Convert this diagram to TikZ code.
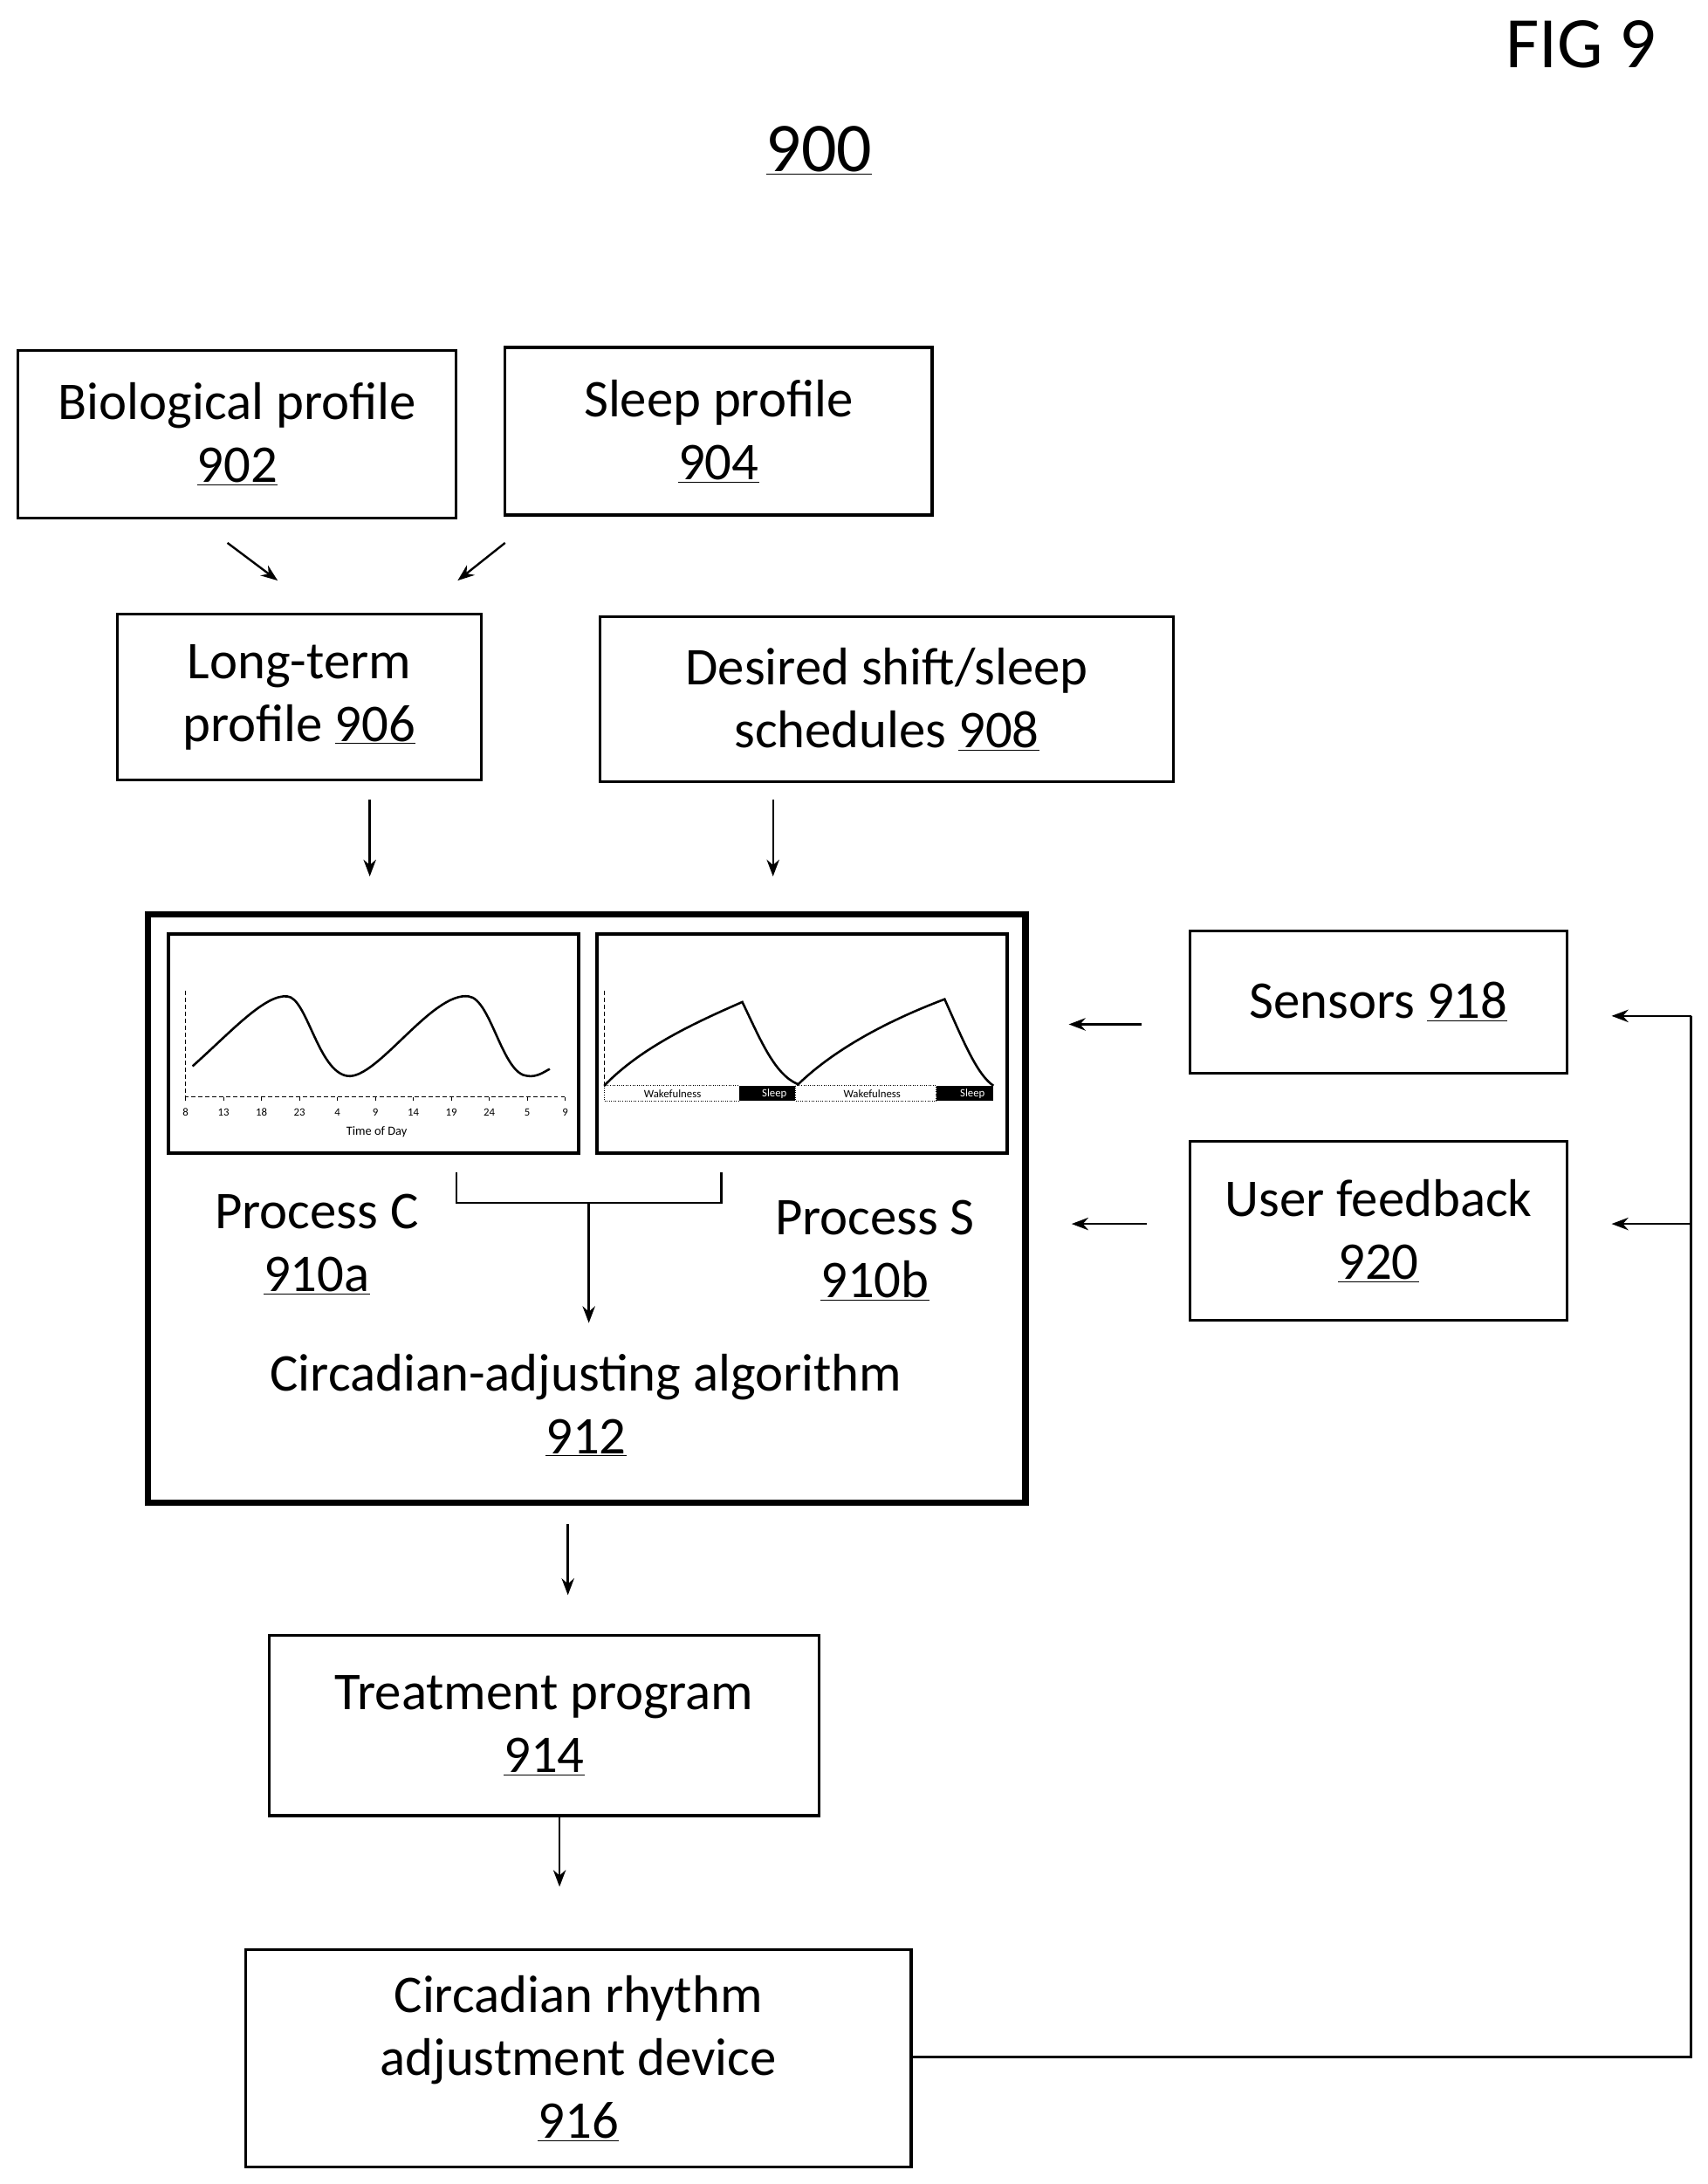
\documentclass[tikz,border=0pt]{standalone}
\usepackage{fontspec}
\setmainfont{Carlito}
\usetikzlibrary{arrows.meta}
\begin{document}
\begin{tikzpicture}[x=1pt,y=-1pt,
 box/.style={draw,line width=2pt,align=center,font=\fontsize{38}{45}\selectfont},
 lbl/.style={align=center,font=\fontsize{38}{45}\selectfont},
 arr/.style={-{Stealth[length=12pt,width=9pt]},line width=1.5pt},
 tiny/.style={font=\fontsize{8}{8}\selectfont,inner sep=0pt}]
\useasboundingbox (0,0) rectangle (1224,1565);
\node[font=\fontsize{52}{52}\selectfont] (fig) at (1133,32) {FIG 9};
\node[font=\fontsize{50}{50}\selectfont] (n900) at (587,108) {\underline{900}};
% boxes
\node[box,minimum width=314pt,minimum height=120pt] (bio) at (170,311) {Biological profile\\\underline{902}};
\node[box,minimum width=306pt,minimum height=120pt] (slp) at (515,309) {Sleep profile\\\underline{904}};
\node[box,minimum width=261pt,minimum height=119pt] (lt) at (214.5,499.5) {Long-term\\profile \underline{906}};
\node[box,minimum width=411pt,minimum height=118pt] (ds) at (635.5,501) {Desired shift/sleep\\schedules \underline{908}};
\node[draw,line width=4.5pt,minimum width=629pt,minimum height=422pt] (big) at (420.5,866) {};
\node[box,minimum width=270pt,minimum height=102pt] (sen) at (988,718) {Sensors \underline{918}};
\node[box,minimum width=270pt,minimum height=128pt] (uf) at (988,882) {User feedback\\\underline{920}};
\node[box,minimum width=394pt,minimum height=129pt] (tp) at (390,1236.5) {Treatment program\\\underline{914}};
\node[box,minimum width=477pt,minimum height=156pt] (dev) at (414.5,1475) {Circadian rhythm\\adjustment device\\\underline{916}};
% graph boxes
\node[draw,line width=2.5pt,minimum width=294pt,minimum height=157pt] (gc) at (268,747.5) {};
\node[draw,line width=2.5pt,minimum width=294pt,minimum height=157pt] (gs) at (575,747.5) {};
% process C graph
\draw[densely dashed,line width=0.6pt] (133,710) -- (133,786) -- (405,786);
\foreach \i/\t in {0/8,1/13,2/18,3/23,4/4,5/9,6/14,7/19,8/24,9/5,10/9}{
 \draw[line width=0.6pt] ({133+27.2*\i},786) -- ({133+27.2*\i},789);
 \node[tiny] at ({133+27.2*\i},797) {\t};}
\node[tiny,font=\fontsize{9}{9}\selectfont] (tod) at (270,811) {Time of Day};
\draw[line width=1.6pt] (138,764) .. controls (165,740) and (190,712) .. (206,714)
 .. controls (220,715) and (228,768) .. (249,771)
 .. controls (270,774) and (310,710) .. (336,714)
 .. controls (352,716) and (360,770) .. (378,771)
 .. controls (385,772) and (390,768) .. (394,766);
% process S graph
\draw[densely dashed,line width=0.6pt] (433,710) -- (433,778);
\draw[densely dotted,line width=0.6pt] (433,778) rectangle (530,789);
\fill (530,778) rectangle (570,789);
\draw[densely dotted,line width=0.6pt] (570,778) rectangle (671,789);
\fill (671,778) rectangle (712,789);
\node[tiny] at (482,784) {Wakefulness};
\node[tiny,text=white] at (555,784) {Sleep};
\node[tiny] at (625,784) {Wakefulness};
\node[tiny,text=white] at (697,784) {Sleep};
\draw[line width=1.6pt] (433,778) .. controls (460,750) and (500,732) .. (532,718)
 .. controls (545,745) and (555,770) .. (572,777)
 .. controls (600,750) and (640,730) .. (677,716)
 .. controls (690,745) and (700,770) .. (712,778);
% labels
\node[lbl] (pc) at (227,892) {Process C\\\underline{910a}};
\node[lbl] (ps) at (627,896) {Process S\\\underline{910b}};
\node[lbl] (alg) at (420,1007) {Circadian-adjusting algorithm\\\underline{912}};
% connectors
\coordinate (a1) at (163,389); \coordinate (a1e) at (199,416);
\coordinate (a2) at (362,389); \coordinate (a2e) at (328,416);
\draw[arr] (a1) -- (a1e);
\draw[arr] (a2) -- (a2e);
\coordinate (b1) at (265,573); \coordinate (b1e) at (265,628);
\coordinate (b2) at (554,573); \coordinate (b2e) at (554,628);
\draw[arr] (b1) -- (b1e);
\draw[arr] (b2) -- (b2e);
\coordinate (s1) at (818,734); \coordinate (s1e) at (766,734);
\coordinate (u1) at (822,877); \coordinate (u1e) at (768,877);
\draw[arr] (s1) -- (s1e);
\draw[arr] (u1) -- (u1e);
\coordinate (fb) at (1212,1474);
\draw[line width=1.5pt] (dev.east |- fb) -- (fb) -- (1212,728);
\draw[arr] (1212,728) -- (1155,728);
\draw[arr] (1212,877) -- (1155,877);
\draw[line width=1.5pt] (327,840) -- (327,862) -- (517,862) -- (517,840);
\draw[arr] (422,862) -- (422,948);
\coordinate (c1) at (407,1092); \coordinate (c1e) at (407,1143);
\draw[arr] (c1) -- (c1e);
\coordinate (d1) at (401,1302); \coordinate (d1e) at (401,1352);
\draw[arr] (d1) -- (d1e);
\end{tikzpicture}
\end{document}
